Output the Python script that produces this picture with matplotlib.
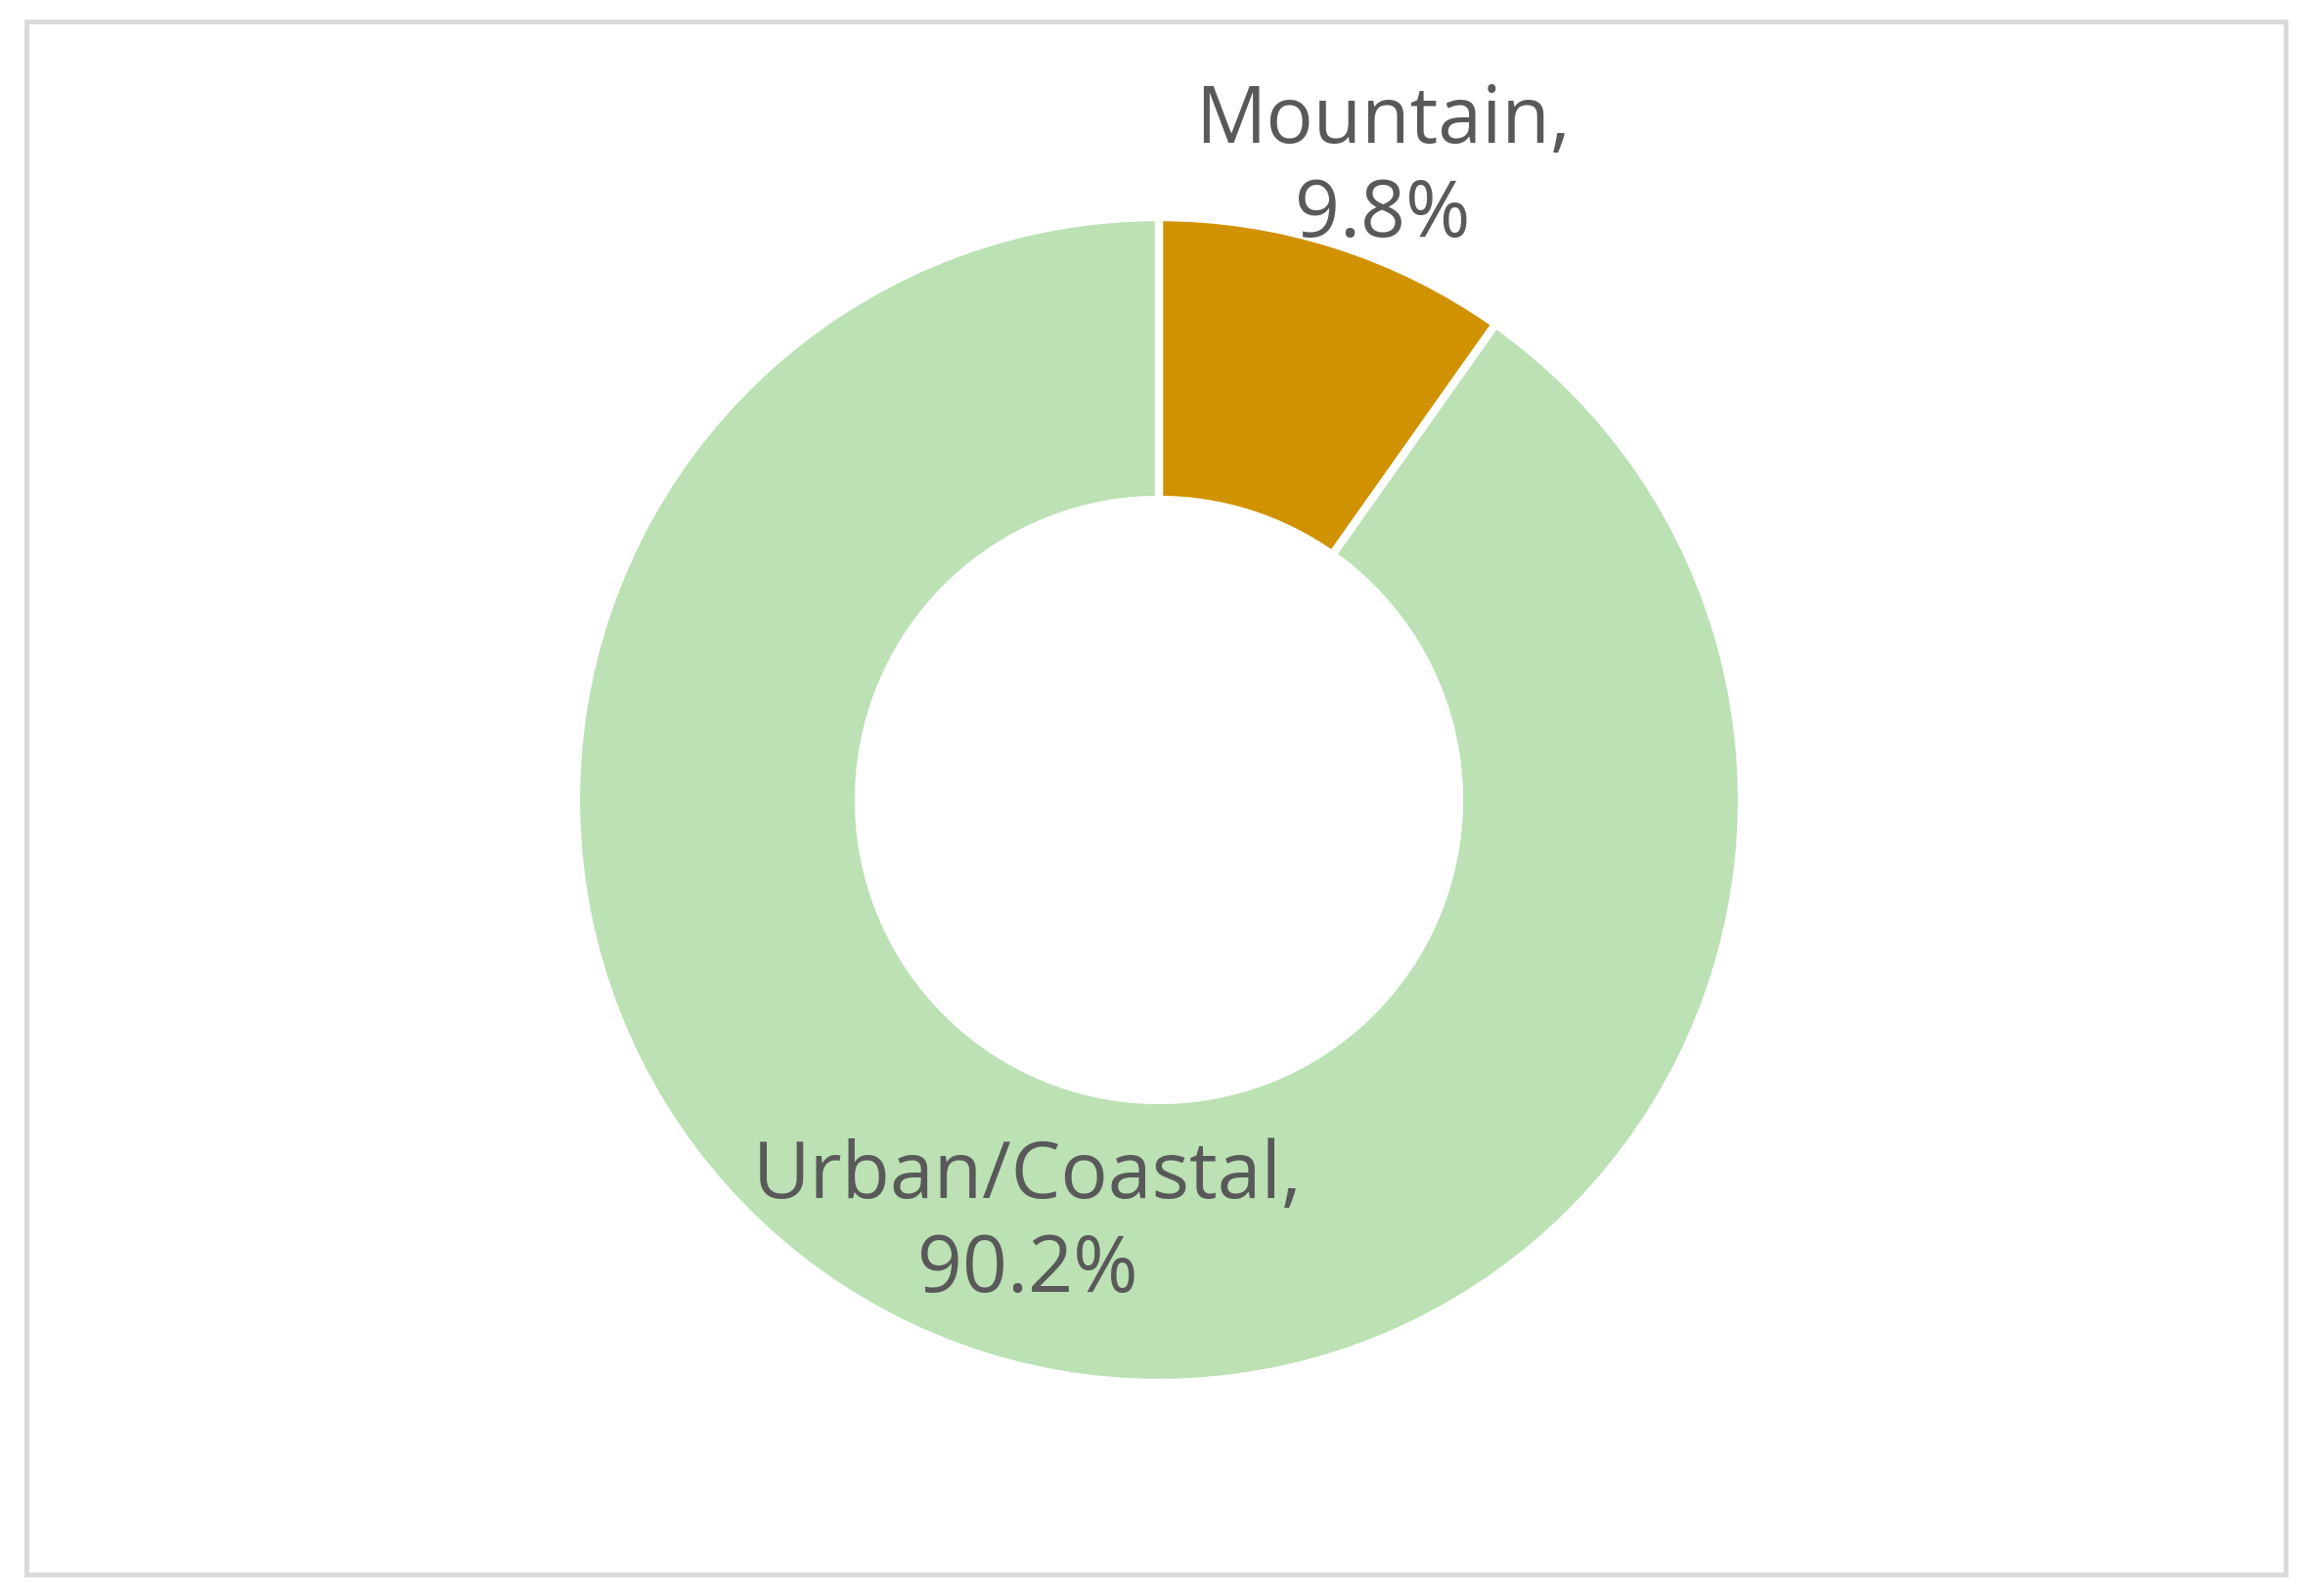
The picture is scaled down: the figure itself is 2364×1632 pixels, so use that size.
import matplotlib.pyplot as plt
from matplotlib.patches import Rectangle

labels = ["Mountain", "Urban/Coastal"]
shares = [9.8, 90.2]
colors = ["#d09200", "#bbe1b4"]

W, H = 2364, 1633
fig = plt.figure(figsize=(W / 100, H / 100), dpi=100)
ax = fig.add_axes([0, 0, 1, 1])

radius = 596
ax.pie(shares, colors=colors, startangle=90, counterclock=False,
       center=(1185, 814), radius=radius,
       wedgeprops=dict(width=radius * 0.485, edgecolor="white", linewidth=6))

# pie() resets the limits, so set the pixel frame afterwards
ax.set_xlim(0, W)
ax.set_ylim(0, H)
ax.set_aspect("equal")
ax.axis("off")

# chart border
ax.add_patch(Rectangle((27, 22), 2310, 1588, fill=False, edgecolor="#d9d9d9", linewidth=3.5))

font = dict(family=["Open Sans", "DejaVu Sans"], fontsize=58, color="#595959",
            ha="center", va="center", linespacing=1.25)
ax.text(1414, 1460, f"{labels[0]},\n{shares[0]}%", **font)
ax.text(1051, 381, f"{labels[1]},\n{shares[1]}%", **font)

fig.savefig("out.png", dpi=100)
